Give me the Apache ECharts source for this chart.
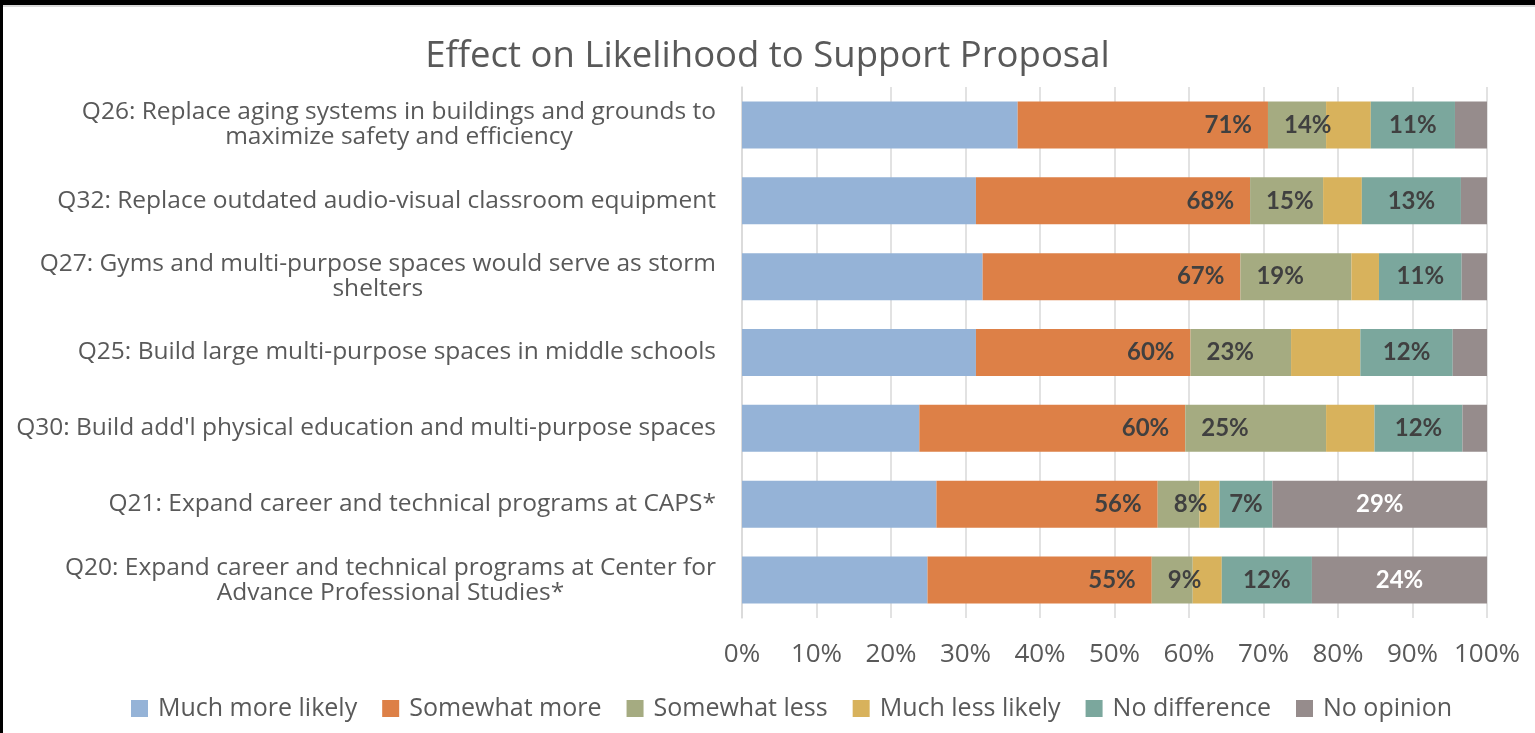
<!DOCTYPE html>
<html>
<head>
<meta charset="utf-8">
<script src="https://cdn.jsdelivr.net/npm/echarts@6/dist/echarts.min.js"></script>
<style>
html,body{margin:0;padding:0;background:#fff;}
#chart{width:1535px;height:733px;}
</style>
</head>
<body>
<div id="chart"></div>
<script>
const titleText = 'Effect on Likelihood to Support Proposal';
const categories = [
  'Q26: Replace aging systems in buildings and grounds to\nmaximize safety and efficiency',
  'Q32: Replace outdated audio-visual classroom equipment',
  'Q27: Gyms and multi-purpose spaces would serve as storm\nshelters',
  'Q25: Build large multi-purpose spaces in middle schools',
  "Q30: Build add'l physical education and multi-purpose spaces",
  'Q21: Expand career and technical programs at CAPS*',
  'Q20: Expand career and technical programs at Center for\nAdvance Professional Studies*'
];
const seriesNames = ['Much more likely','Somewhat more','Somewhat less','Much less likely','No difference','No opinion'];
const muchMore     = [37.0, 31.4, 32.3, 31.4, 23.8, 26.1, 24.9];
const somewhatMore = [33.6, 36.8, 34.6, 28.8, 35.7, 29.7, 30.1];
const somewhatLess = [7.8, 9.8, 14.9, 13.5, 18.9, 5.6, 5.5];
const muchLess     = [6.0, 5.2, 3.7, 9.3, 6.5, 2.7, 3.9];
const noDifference = [11.3, 13.3, 11.1, 12.4, 11.8, 7.1, 12.1];
const noOpinion    = [4.3, 3.5, 3.4, 4.6, 3.3, 28.8, 23.5];
// data label texts shown on the bars
const moreLabels   = [71, 68, 67, 60, 60, 56, 55];
const lessLabels   = [14, 15, 19, 23, 25, 8, 9];
const noDiffLabels = [11, 13, 11, 12, 12, 7, 12];
const noOpLabels   = [null, null, null, null, null, 29, 24];
const xTicks = [0,10,20,30,40,50,60,70,80,90,100];

const colors = ['#95B3D7','#DD8047','#A5AB81','#D8B25C','#7BA79D','#968C8C'];
const FONT = '"Open Sans"';
const LFONT = 'Lato';
const TXT = '#595959';

const lblBase = {show:true, fontFamily:LFONT, fontSize:24, fontWeight:'bold', color:'#404040'};
function fmt(arr){ return p => (arr[p.dataIndex]==null ? '' : arr[p.dataIndex] + '%'); }

const seriesData = [muchMore, somewhatMore, somewhatLess, muchLess, noDifference, noOpinion];
const labelCfg = [
  {show:false},
  Object.assign({}, lblBase, {position:'insideRight', distance:16, formatter: fmt(moreLabels)}),
  Object.assign({}, lblBase, {position:'insideLeft', distance:16, formatter: fmt(lessLabels)}),
  {show:false},
  Object.assign({}, lblBase, {position:'inside', formatter: fmt(noDiffLabels)}),
  Object.assign({}, lblBase, {position:'inside', color:'#ffffff', formatter: fmt(noOpLabels)})
];

const series = seriesNames.map((n,i)=>({
  name:n, type:'bar', stack:'total', barCategoryGap:'38%',
  itemStyle:{color:colors[i]},
  label: labelCfg[i],
  emphasis:{disabled:true},
  data: seriesData[i]
}));

const chart = echarts.init(document.getElementById('chart'), null, {renderer:'canvas'});
chart.setOption({
  animation:false,
  backgroundColor:'#ffffff',
  color: colors,
  title:{text:titleText, left:'center', top:33,
    textStyle:{fontFamily:FONT, fontSize:36.5, fontWeight:'normal', color:TXT}},
  legend:{data:seriesNames, left:126, top:691, itemWidth:17, itemHeight:17, itemGap:25, icon:'rect',
    textStyle:{fontFamily:FONT, fontSize:25, color:TXT, padding:[0,0,0,5]}},
  grid:{left:742, right:48, top:87, height:531, containLabel:false},
  xAxis:{type:'value', min:0, max:100, interval:10,
    axisLine:{show:false}, axisTick:{show:false},
    splitLine:{show:true, lineStyle:{color:'#D9D9D9', width:1.5}},
    axisLabel:{formatter:v=> xTicks.includes(v) ? v + '%' : '', fontFamily:FONT, fontSize:26, color:TXT, margin:24}},
  yAxis:{type:'category', inverse:true, data:categories,
    axisLine:{show:true, lineStyle:{color:'#D9D9D9', width:1.5}}, axisTick:{show:false},
    axisLabel:{fontFamily:FONT, fontSize:24.5, color:TXT, margin:26, lineHeight:25,
      formatter: v => v.split('\n').map(s=>'{c|'+s+'}').join('\n'),
      rich:{c:{fontFamily:FONT, fontSize:24.5, color:TXT, lineHeight:25, align:'center'}}}},
  graphic:[
    {type:'rect', left:0, top:0, shape:{width:1535, height:5}, style:{fill:'#000'}, z:100},
    {type:'rect', left:0, top:5, shape:{width:1535, height:2}, style:{fill:'#D9D9D9'}, z:100},
    {type:'rect', left:0, top:0, shape:{width:3, height:733}, style:{fill:'#000'}, z:100}
  ],
  series: series
});
</script>
</body>
</html>
